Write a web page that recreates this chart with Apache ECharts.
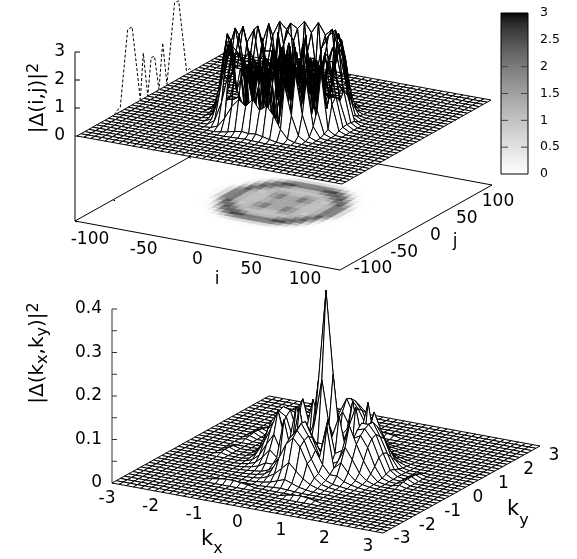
<!DOCTYPE html>
<html><head><meta charset="utf-8">
<style>html,body{margin:0;padding:0;background:#fff}#c{width:577px;height:559px}</style>
<script src="https://cdn.jsdelivr.net/npm/echarts@6/dist/echarts.min.js"></script>
</head><body><div id="c"></div>
<script>
// ---------- values ----------
const realTicksZ = [0,1,2,3];
const realTicksI = [-100,-50,0,50,100];
const realTicksJ = [-100,-50,0,50,100];
const colorTicks = [0,0.5,1,1.5,2,2.5,3];
const fourierTicksZ = [0,0.1,0.2,0.3,0.4];
const fourierTicksXY = [-3,-2,-1,0,1,2,3];
// slice drawn dashed behind the i=-100 edge
const sliceJ = [-50,-45.5,-42,-32,-26,-15,-11,-5,-0.5,4,10,15,20.7,31,36.5,47,51,55];
const sliceZ = [0,.12,.13,2.78,2.79,.03,1.63,0,1.3,1.29,.01,1.6,.03,2.8,2.78,.12,.14,.02];
// |Δ(i,j)|² around the centre: 21 grid lines each way
const realHeights = [
[0,0,0,0,0,0,0,0,.01,.02,.03,.02,.01,0,0,0,0,0,0,0,0],
[0,0,0,0,0,0,.03,.08,.14,.18,.15,.18,.13,.07,.02,0,0,0,0,0,0],
[0,0,0,0,.02,.12,.45,.9,1.2,1.0,1.3,.95,1.15,.85,.4,.1,.02,0,0,0,0],
[0,0,0,.02,.2,.9,2.0,2.75,2.5,2.9,2.5,2.85,2.55,2.7,1.9,.85,.18,.02,0,0,0],
[0,0,.01,.12,.9,2.3,2.85,2.6,2.1,.8,1.9,.7,2.2,2.55,2.8,2.25,.85,.1,.01,0,0],
[0,0,.04,.45,2.0,2.85,1.2,1.9,.2,1.8,.3,1.9,.2,1.9,1.2,2.75,1.95,.4,.03,0,0],
[0,.01,.12,.95,2.75,1.9,1.9,.3,1.9,.2,1.7,.2,1.9,.3,1.9,1.85,2.7,.9,.1,.01,0],
[0,.03,.2,2.1,2.7,1.0,.4,2.0,1.2,2.4,.2,2.4,1.2,2.0,.4,1.1,2.65,2.15,.18,.02,0],
[0,.12,1.0,2.85,1.75,.4,1.9,.3,2.9,1.4,1.7,1.4,2.8,.3,1.8,.4,1.7,2.8,1.0,.1,0],
[.01,.16,1.25,2.5,.9,1.9,.2,2.0,1.2,2.5,.3,2.4,1.2,1.9,.2,1.9,1.0,2.55,1.2,.15,.01],
[.02,.18,1.0,2.9,1.7,.3,1.8,.3,1.7,.6,2.4,.7,1.6,.3,1.8,.3,1.75,2.85,.95,.17,.02],
[.01,.15,1.2,2.55,1.0,1.85,.2,1.9,1.2,2.4,.3,2.5,1.25,2.0,.2,1.85,.9,2.5,1.25,.16,.01],
[0,.1,.95,2.8,1.7,.4,1.8,.3,2.8,1.4,1.7,1.45,2.9,.3,1.9,.4,1.75,2.85,1.0,.12,0],
[0,.02,.18,2.15,2.65,1.1,.4,2.0,1.25,2.4,.2,2.45,1.2,1.95,.4,1.0,2.7,2.1,.2,.03,0],
[0,.01,.1,.9,2.7,1.85,1.9,.3,1.85,.2,1.7,.2,1.9,.3,1.9,1.9,2.75,.95,.12,.01,0],
[0,0,.03,.4,1.95,2.75,1.2,1.9,.2,1.9,.3,1.8,.2,1.9,1.2,2.85,2.0,.45,.04,0,0],
[0,0,.01,.1,.85,2.25,2.8,2.55,2.2,.7,1.9,.8,2.1,2.6,2.85,2.3,.9,.12,.01,0,0],
[0,0,0,.02,.18,.85,1.9,2.7,2.55,2.85,2.5,2.9,2.5,2.75,2.0,.9,.2,.02,0,0,0],
[0,0,0,0,.02,.1,.4,.85,1.15,.95,1.3,1.0,1.2,.9,.45,.12,.02,0,0,0,0],
[0,0,0,0,0,0,.02,.07,.13,.18,.15,.18,.14,.08,.03,0,0,0,0,0,0],
[0,0,0,0,0,0,0,0,.01,.02,.03,.02,.01,0,0,0,0,0,0,0,0]
];
// |Δ(kx,ky)|² around the centre: 25 grid lines each way
const fourierHeights = [
[0,0,0,0,0,0,0,0,0,0,0,0,0,0,0,0,0,0,0,0,0,0,0,0,0],
[0,0,0,0,0,0,0,0,0,0,.001,.002,.003,.002,.001,0,0,0,0,0,0,0,0,0,0],
[0,0,0,0,0,0,0,0,.001,.003,.006,.012,.018,.012,.006,.003,.001,0,0,0,0,0,0,0,0],
[0,0,0,0,0,0,.001,.002,.004,.01,.02,.035,.052,.035,.02,.01,.004,.002,.001,0,0,0,0,0,0],
[0,0,0,0,0,.001,.002,.004,.008,.02,.05,.085,.103,.085,.05,.02,.008,.004,.002,.001,0,0,0,0,0],
[0,0,0,0,.001,.002,.004,.006,.012,.025,.055,.095,.115,.095,.055,.025,.012,.006,.004,.002,.001,0,0,0,0],
[0,0,0,0,.002,.005,.01,.02,.02,.04,.07,.1,.126,.1,.07,.04,.02,.02,.01,.005,.002,0,0,0,0],
[0,0,0,.001,.004,.01,.025,.045,.03,.12,.05,.09,.125,.09,.05,.12,.03,.045,.025,.01,.004,.001,0,0,0],
[0,0,0,.002,.008,.022,.05,.075,.04,.03,.04,.07,.1,.07,.04,.03,.04,.075,.05,.022,.008,.002,0,0,0],
[0,0,0,.003,.018,.045,.08,.125,.06,.05,.14,.05,.03,.05,.125,.05,.06,.12,.08,.045,.018,.003,0,0,0],
[0,0,.001,.006,.03,.07,.095,.085,.05,.135,.08,.06,.06,.06,.08,.13,.05,.085,.095,.07,.03,.006,.001,0,0],
[0,0,.001,.01,.045,.085,.11,.1,.05,.03,.06,.1,.2,.1,.06,.03,.05,.1,.105,.085,.045,.01,.001,0,0],
[0,0,.002,.014,.05,.09,.115,.11,.06,.02,.06,.2,.4,.21,.06,.02,.06,.11,.11,.09,.05,.014,.002,0,0],
[0,0,.001,.01,.045,.08,.105,.1,.05,.03,.06,.1,.205,.1,.06,.03,.05,.1,.11,.08,.045,.01,.001,0,0],
[0,0,.001,.006,.03,.07,.095,.085,.05,.13,.08,.06,.06,.06,.08,.13,.05,.085,.095,.07,.03,.006,.001,0,0],
[0,0,0,.003,.018,.045,.08,.12,.06,.05,.13,.05,.03,.05,.135,.05,.06,.12,.08,.045,.018,.003,0,0,0],
[0,0,0,.002,.008,.022,.05,.075,.04,.03,.04,.07,.1,.07,.04,.03,.04,.075,.05,.022,.008,.002,0,0,0],
[0,0,0,.001,.004,.01,.025,.045,.03,.12,.05,.09,.125,.09,.05,.125,.03,.045,.025,.01,.004,.001,0,0,0],
[0,0,0,0,.002,.005,.01,.02,.02,.04,.07,.1,.12,.1,.07,.04,.02,.02,.01,.005,.002,0,0,0,0],
[0,0,0,0,.001,.002,.004,.006,.012,.025,.055,.09,.11,.09,.055,.025,.012,.006,.004,.002,.001,0,0,0,0],
[0,0,0,0,0,.001,.002,.004,.008,.02,.05,.08,.095,.08,.05,.02,.008,.004,.002,.001,0,0,0,0,0],
[0,0,0,0,0,0,.001,.002,.004,.01,.02,.035,.05,.035,.02,.01,.004,.002,.001,0,0,0,0,0,0],
[0,0,0,0,0,0,0,0,.001,.003,.006,.012,.018,.012,.006,.003,.001,0,0,0,0,0,0,0,0],
[0,0,0,0,0,0,0,0,0,0,.001,.002,.003,.002,.001,0,0,0,0,0,0,0,0,0,0],
[0,0,0,0,0,0,0,0,0,0,0,0,0,0,0,0,0,0,0,0,0,0,0,0,0]
];
// faint ripple ring: [kx line, ky line, height]
const fourierRipple = [
[-9,-12,.003],[-8,-12,.006],[-7,-12,.008],[-6,-12,.008],[-5,-12,.006],[-4,-12,.004],
[2,-13,.004],[3,-13,.007],[4,-13,.008],[5,-13,.006],[6,-13,.003],
[-2,13,.004],[-1,13,.006],[0,13,.007],[1,13,.006],[2,13,.004],
[-13,3,.004],[-13,4,.006],[-13,5,.008],[-13,6,.008],[-13,7,.006],[-13,8,.003],
[12,-3,.004],[12,-2,.006],[12,-1,.008],[12,0,.008],[12,1,.007],[12,2,.004],
[-13,-3,.004],[-13,-2,.006],[-13,-1,.006],[-13,0,.004]
];

// ---------- layout (pixels in the 577x559 picture) ----------
const N = 19;
const realPlane = {left:[77,136], front:[342,184], right:[491,100], zScale:28};
const realBase  = {left:[75,221], front:[340,270], right:[492,185]};
const fourierPlane = {left:[112,483], front:[383,533], right:[540,446], zScale:435};
const fontFamily = '"DejaVu Sans"';
const tickFont = 17, barFont = 12.5;

function planePoint(p,u,v,z){
  return [p.left[0]+(p.front[0]-p.left[0])*u+(p.right[0]-p.front[0])*v,
          p.left[1]+(p.front[1]-p.left[1])*u+(p.right[1]-p.front[1])*v-(p.zScale||0)*(z||0)];
}
function realZ(a,b){const r=realHeights[b+10];return r&&r[a+10]!==undefined?r[a+10]:0;}
const rippleMap={};fourierRipple.forEach(t=>{rippleMap[t[0]+','+t[1]]=t[2];});
function fourierZ(a,b){
  const r=fourierHeights[b+12];
  const v=(r&&r[a+12]!==undefined)?r[a+12]:0;
  return Math.max(v,rippleMap[a+','+b]||0);
}
function palette(z){
  const g=Math.round(255*Math.pow(Math.max(0,1-z/3),2/3));
  return 'rgb('+g+','+g+','+g+')';
}
// cells are listed back to front, so later ones cover earlier ones
const cells=[];
for(let a=-N;a<N;a++)for(let b=N-1;b>=-N;b--)cells.push([a,b]);
const heatCells=cells.filter(c=>{const a=c[0],b=c[1];return (realZ(a,b)+realZ(a+1,b)+realZ(a,b+1)+realZ(a+1,b+1))>0.01;});

function surface(plane,zf,isOpaque,z){
  return {type:'custom',coordinateSystem:'cartesian2d',silent:true,animation:false,clip:false,z:z,progressive:0,
    data:cells,
    renderItem:function(params,api){
      const a=api.value(0),b=api.value(1);
      const corners=[[a,b],[a+1,b],[a+1,b+1],[a,b+1]];
      let sum=0;
      const pts=corners.map(c=>{
        const h=zf(c[0],c[1]);sum+=h;
        return api.coord(planePoint(plane,(c[0]+N)/(2*N),(c[1]+N)/(2*N),h));
      });
      return {type:'polygon',shape:{points:pts},
        style:{fill:isOpaque(a,b,sum/4)?'#fff':'none',stroke:'#000',lineWidth:1,lineJoin:'round'}};
    }};
}
const heatSeries={type:'custom',coordinateSystem:'cartesian2d',silent:true,animation:false,clip:false,z:2,progressive:0,
  data:heatCells,
  renderItem:function(params,api){
    const a=api.value(0),b=api.value(1);
    const h=(realZ(a,b)+realZ(a+1,b)+realZ(a,b+1)+realZ(a+1,b+1))/4;
    const pts=[[a,b],[a+1,b],[a+1,b+1],[a,b+1]].map(c=>api.coord(planePoint(realBase,(c[0]+N)/(2*N),(c[1]+N)/(2*N),0)));
    const col=palette(h);
    return {type:'polygon',shape:{points:pts},style:{fill:col,stroke:col,lineWidth:0.5}};
  }};

// ---------- frame lines, ticks ----------
const segs=[];
function seg(p,q,w,c){segs.push({p:p,q:q,w:w||1,c:c||'#000'});}
const bb=realBase;
const baseBack=[bb.left[0]+bb.right[0]-bb.front[0],bb.left[1]+bb.right[1]-bb.front[1]];
seg(bb.left,bb.front);seg(bb.front,bb.right);seg(bb.right,baseBack);seg(bb.left,baseBack);
const rzTop=[75,136-3*28];
seg(rzTop,bb.left);
realTicksZ.forEach(t=>seg([75,136-t*28],[80,136-t*28]));
realTicksJ.forEach(t=>{const v=(t+100)/200;const x=bb.left[0]+(baseBack[0]-bb.left[0])*v,y=bb.left[1]+(baseBack[1]-bb.left[1])*v;seg([x,y],[x+2,y+1]);});
const fp=fourierPlane;
seg([fp.left[0],fp.left[1]-0.4*fp.zScale],fp.left,1,'#333');
[0,.05,.1,.15,.2,.25,.3,.35,.4].forEach(t=>seg([fp.left[0],fp.left[1]-t*fp.zScale],[fp.left[0]+5,fp.left[1]-t*fp.zScale],1,'#333'));
// colour box
const box={x0:501,x1:528,y0:13,y1:174};
colorTicks.forEach(t=>{const y=box.y1-(box.y1-box.y0)*t/3;
  if(t===0||t===3)return;
  seg([box.x0,y],[box.x0+7,y],1,'#444');seg([box.x1-7,y],[box.x1,y],1,'#444');});
const lineSeries={type:'custom',coordinateSystem:'cartesian2d',silent:true,animation:false,clip:false,z:1,progressive:0,
  data:segs.map((s,i)=>[i]),
  renderItem:function(params,api){
    const s=segs[api.value(0)];
    return {type:'line',shape:{x1:api.coord(s.p)[0],y1:api.coord(s.p)[1],x2:api.coord(s.q)[0],y2:api.coord(s.q)[1]},style:{stroke:s.c,lineWidth:s.w}};
  }};
const stops=[];for(let k=0;k<=30;k++)stops.push({offset:k/30,color:palette(3*k/30)});
const boxSeries={type:'custom',coordinateSystem:'cartesian2d',silent:true,animation:false,clip:false,z:0,
  data:[[0]],
  renderItem:function(params,api){
    const a=api.coord([box.x0,box.y0]),b=api.coord([box.x1,box.y1]);
    return {type:'rect',shape:{x:a[0],y:a[1],width:b[0]-a[0],height:b[1]-a[1]},
      style:{stroke:'#000',lineWidth:1,fill:new echarts.graphic.LinearGradient(0,1,0,0,stops)}};
  }};

// ---------- text ----------
const texts=[];
function txt(s,x,y,o){texts.push(Object.assign({s:s,x:x,y:y,size:tickFont,align:'center'},o||{}));}
function along(list,i,p,q){const t=i/(list.length-1);return [p[0]+(q[0]-p[0])*t,p[1]+(q[1]-p[1])*t];}
realTicksZ.forEach(t=>txt(String(t),65,136-t*28,{align:'right'}));
realTicksI.forEach((t,i)=>{const c=along(realTicksI,i,[90,240],[305,280]);txt(String(t),c[0],c[1]);});
realTicksJ.forEach((t,i)=>{const c=along(realTicksJ,i,[373,269],[498,202]);txt(String(t),c[0],c[1]);});
txt('i',217,280);txt('j',455,242);
colorTicks.forEach(t=>txt(String(t),540,box.y1-(box.y1-box.y0)*t/3,{size:barFont,align:'left'}));
fourierTicksZ.forEach(t=>txt(String(t),102,fp.left[1]-t*fp.zScale,{align:'right'}));
fourierTicksXY.forEach((t,i)=>{const c=along(fourierTicksXY,i,[107,499],[368,547]);txt(String(t),c[0],c[1]);});
fourierTicksXY.forEach((t,i)=>{const c=along(fourierTicksXY,i,[402,539],[554,456]);txt(String(t),c[0],c[1]);});
txt('k',207,540,{size:21});txt('x',218,549,{size:16});
txt('k',513,510,{size:21});txt('y',524,521,{size:16});
function richLabel(x,y,text){texts.push({rich:text,x:x,y:y});}
richLabel(38,98,'{m||Δ(i,j)|}{u|2}');
richLabel(38,353,'{m||Δ(k}{d|x}{m|,k}{d|y}{m|)|}{u|2}');
const textSeries={type:'custom',coordinateSystem:'cartesian2d',silent:true,animation:false,clip:false,z:20,progressive:0,
  data:texts.map((s,i)=>[i]),
  renderItem:function(params,api){
    const t=texts[api.value(0)],c=api.coord([t.x,t.y]);
    if(t.rich){
      return {type:'text',x:c[0],y:c[1],rotation:Math.PI/2,
        style:{text:t.rich,align:'center',verticalAlign:'middle',fill:'#000',fontFamily:fontFamily,
          rich:{m:{fontFamily:fontFamily,fontSize:20,lineHeight:34,verticalAlign:'middle',fill:'#000'},
                u:{fontFamily:fontFamily,fontSize:16,lineHeight:34,verticalAlign:'top',fill:'#000',height:26},
                d:{fontFamily:fontFamily,fontSize:16,lineHeight:34,verticalAlign:'bottom',fill:'#000',height:24}}}};
    }
    return {type:'text',x:c[0],y:c[1],style:{text:t.s,fontFamily:fontFamily,fontSize:t.size,fill:'#000',align:t.align,verticalAlign:'middle'}};
  }};
const sliceSeries={type:'line',silent:true,animation:false,symbol:'none',z:3,clip:false,
  data:sliceJ.map((j,i)=>planePoint(realPlane,0,(j+100)/200,sliceZ[i])),
  lineStyle:{color:'#000',width:1,type:[3,2]}};

// flat sheet and the low front skirt of the dome hide what is behind; the raised part stays open
function realOpaque(a,b,mean){
  const r2=a*a+b*b;
  if(r2>110) return true;
  return mean<1.4 && r2>36 && a-b>-2;
}
function fourierOpaque(){return true;}

const chart=echarts.init(document.getElementById('c'),null,{renderer:'canvas',width:577,height:559});
chart.setOption({
  animation:false,backgroundColor:'#fff',
  grid:{left:0,right:0,top:0,bottom:0},
  xAxis:{type:'value',min:0,max:577,show:false},
  yAxis:{type:'value',min:0,max:559,inverse:true,show:false},
  series:[lineSeries,boxSeries,heatSeries,sliceSeries,
    surface(realPlane,realZ,realOpaque,4),
    surface(fourierPlane,fourierZ,fourierOpaque,5),
    textSeries]
});
</script></body></html>
